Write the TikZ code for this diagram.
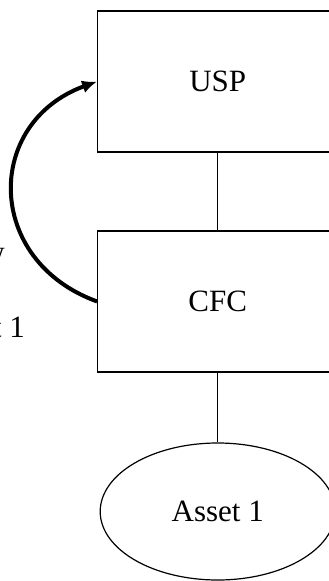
\documentclass[tikz,border=0pt]{standalone}
\usepackage{fontspec}
\setmainfont{Liberation Serif}
\usetikzlibrary{arrows.meta,shapes.geometric}
\begin{document}
\begin{tikzpicture}[x=1pt,y=-1pt,
  boxstyle/.style={draw,line width=1.2pt,minimum width=240pt,minimum height=141pt,inner sep=0pt,font=\fontsize{31}{36}\selectfont},
  ovalstyle/.style={draw,line width=1.2pt,ellipse,minimum width=235pt,minimum height=137pt,inner sep=0pt,font=\fontsize{31}{36}\selectfont},
  link/.style={line width=1.2pt},
  flow/.style={line width=4pt,-{Latex[length=15pt,width=13pt]}},
  lbl/.style={inner sep=0pt,font=\fontsize{31}{36}\selectfont}]
\useasboundingbox (0,0) rectangle (329,581);
\node[boxstyle] (usp) at (217.7,81.5) {USP};
\node[boxstyle] (cfc) at (217.7,301.5) {CFC};
\node[ovalstyle] (asset) at (217.7,511.5) {Asset 1};
\draw[link] (usp.south) -- (cfc.north);
\draw[link] (cfc.south) -- (asset.north);
\draw[flow] (cfc.west) to[out=160,in=200,looseness=1.4] (usp.west);
\node[lbl,anchor=base east] (lw) at (5,262) {w};
\node[lbl,anchor=base east] (lt) at (25,337) {t 1};
\end{tikzpicture}
\end{document}
